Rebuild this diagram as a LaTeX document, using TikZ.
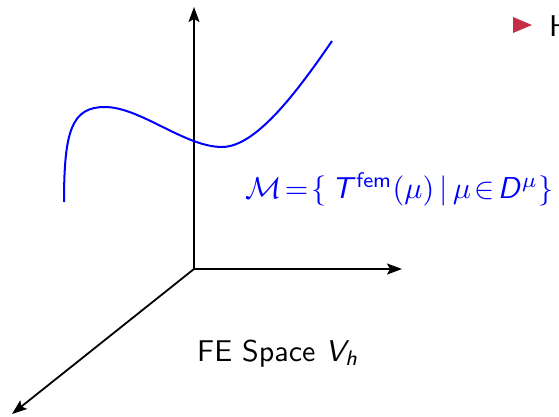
\documentclass[tikz,border=0pt]{standalone}
\usepackage{graphicx}
\usetikzlibrary{arrows.meta}
\DeclareMathAlphabet{\mathsfit}{OT1}{cmss}{m}{sl}
\definecolor{bulletred}{RGB}{200,45,70}
\newcommand{\bigtext}[1]{\scalebox{3}{\fontsize{10}{12}\selectfont\sffamily #1}}
\begin{document}
\begin{tikzpicture}[x=1pt,y=-1pt,
  axis/.style={line width=1.8pt,-{Stealth[length=15pt,width=11pt,inset=3pt]}},
  manifold/.style={blue,line width=2pt},
  lbl/.style={inner sep=0pt}]
\useasboundingbox (0,0) rectangle (559,417);
\coordinate (o) at (194,269);
\coordinate (up) at (194,7);
\coordinate (right) at (402,269);
\coordinate (dl) at (12,414);
\draw[axis] (o) -- (up);
\draw[axis] (o) -- (right);
\draw[axis] (o) -- (dl);
\draw[manifold] (64,202) .. controls (64,130) and (72,107) .. (105,107)
  .. controls (140,107) and (185,147) .. (222,147)
  .. controls (255,147) and (295,95) .. (332,41);
\node[lbl,text=blue,anchor=base west] (mlabel) at (245,198)
  {\resizebox{308pt}{!}{$\mathcal{M}\!=\!\{\,\mathsfit{T}^{\mathsf{fem}}(\mu)\,|\,\mu\!\in\! \mathsfit{D}^{\mu}\}$}};
\node[lbl,anchor=base west] (fe) at (197,361) {\bigtext{FE Space $\mathsfit{V}_{\mathsfit{h}}$}};
\fill[bulletred] (513,17) -- (532,25) -- (513,33) -- cycle;
\node[lbl,anchor=base west] (h) at (549,37) {\bigtext{H}};
\end{tikzpicture}
\end{document}
